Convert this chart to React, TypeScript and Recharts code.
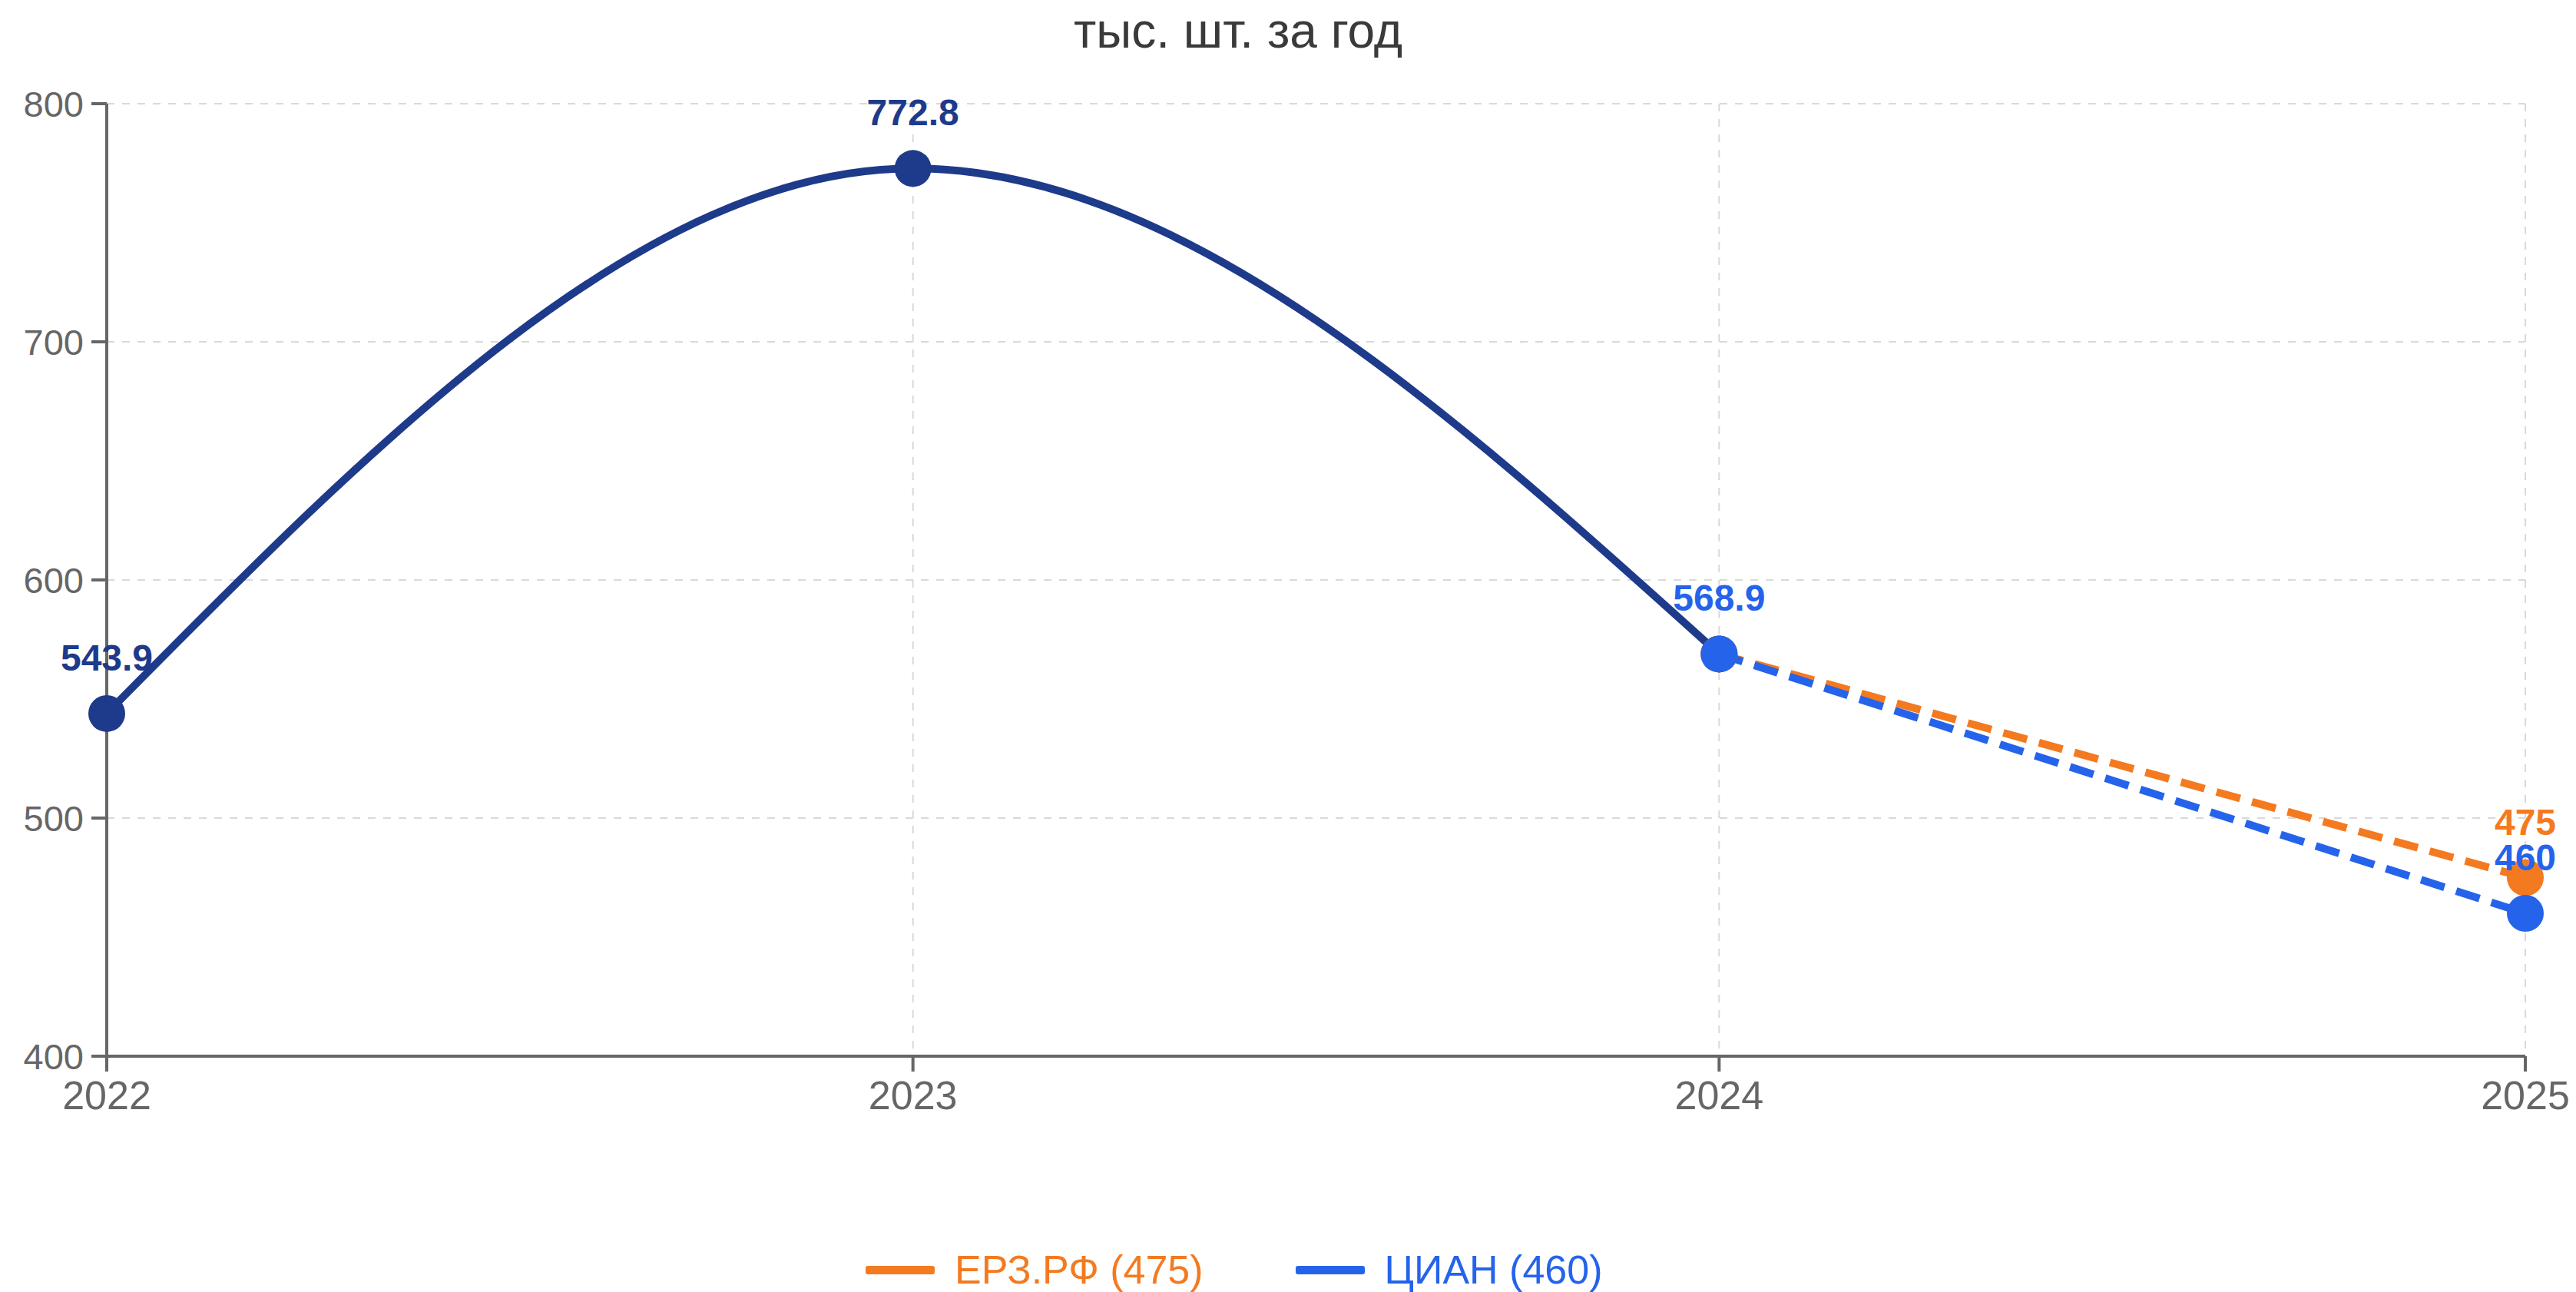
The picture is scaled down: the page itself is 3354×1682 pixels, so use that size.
import React from 'react'
import {
  LineChart,
  Line,
  XAxis,
  YAxis,
  CartesianGrid,
  Legend,
  LabelList,
} from 'recharts'

const years = ['2022', '2023', '2024', '2025']
const factValues = [543.9, 772.8, 568.9, null]
const erzValues = [null, null, 568.9, 475]
const cianValues = [null, null, 568.9, 460]
const yTicks = [400, 500, 600, 700, 800]

const NAVY = '#1e3a8a'
const ORANGE = '#f47a20'
const BLUE = '#2563eb'
const FONT = '"Liberation Sans", Arial, Helvetica, sans-serif'

const data = years.map((year, i) => ({
  year,
  fact: factValues[i],
  erz: erzValues[i],
  cian: cianValues[i],
}))

const legendItems = [
  { name: 'ЕРЗ.РФ (475)', color: ORANGE },
  { name: 'ЦИАН (460)', color: BLUE },
]

// labels only on chosen points
const pointLabel = (color: string, show: number[]) => (props: any) => {
  const { x, y, value, index } = props
  if (value == null || !show.includes(index)) return null
  return (
    <text
      x={x}
      y={y - 56}
      textAnchor='middle'
      fill={color}
      fontSize={48}
      fontWeight={700}
      fontFamily={FONT}>
      {value}
    </text>
  )
}

const LegendContent = () => (
  <div
    style={{
      height: 58,
      display: 'flex',
      alignItems: 'center',
      paddingLeft: 1127,
      fontFamily: FONT,
      fontSize: 52,
    }}>
    {legendItems.map((it, i) => (
      <div
        key={it.name}
        style={{
          display: 'flex',
          alignItems: 'center',
          marginRight: i === 0 ? 120 : 0,
          color: it.color,
        }}>
        <span
          style={{
            display: 'inline-block',
            width: 90,
            height: 11,
            borderRadius: 3,
            background: it.color,
            marginRight: 26,
          }}
        />
        <span>{it.name}</span>
      </div>
    ))}
  </div>
)

export default function App() {
  return (
    <div
      style={{
        position: 'absolute',
        left: 0,
        top: 0,
        width: 3354,
        height: 1682,
        background: '#fff',
      }}>
      <div
        style={{
          position: 'absolute',
          left: 1612,
          top: 0,
          transform: 'translateX(-50%)',
          fontFamily: FONT,
          fontSize: 64,
          color: '#3a3a3a',
          lineHeight: '80px',
          whiteSpace: 'nowrap',
        }}>
        тыс. шт. за год
      </div>
      <LineChart
        width={3354}
        height={1682}
        data={data}
        margin={{ top: 135, right: 66, bottom: 0, left: 0 }}>
        <CartesianGrid stroke='#d9d9d9' strokeWidth={2} strokeDasharray='10 10' />
        <XAxis
          dataKey='year'
          height={249}
          interval={0}
          padding={{ left: 0, right: 0 }}
          tickSize={20}
          tickMargin={12}
          stroke='#666'
          strokeWidth={4}
          tick={{ fill: '#666', fontSize: 52, fontFamily: FONT }}
        />
        <YAxis
          width={139}
          domain={[400, 800]}
          ticks={yTicks}
          interval={0}
          tickSize={20}
          tickMargin={10}
          stroke='#666'
          strokeWidth={4}
          tick={{ fill: '#666', fontSize: 47, fontFamily: FONT }}
        />
        <Legend verticalAlign='bottom' content={<LegendContent />} />
        <Line
          type='monotone'
          dataKey='fact'
          stroke={NAVY}
          strokeWidth={10}
          dot={{ r: 24, fill: NAVY, stroke: 'none' }}
          legendType='none'
          isAnimationActive={false}>
          <LabelList dataKey='fact' content={pointLabel(NAVY, [0, 1])} />
        </Line>
        <Line
          type='linear'
          dataKey='erz'
          name='ЕРЗ.РФ (475)'
          stroke={ORANGE}
          strokeWidth={10}
          strokeDasharray='32 16'
          dot={{ r: 24, fill: ORANGE, stroke: 'none', strokeDasharray: '' }}
          isAnimationActive={false}>
          <LabelList dataKey='erz' content={pointLabel(ORANGE, [3])} />
        </Line>
        <Line
          type='linear'
          dataKey='cian'
          name='ЦИАН (460)'
          stroke={BLUE}
          strokeWidth={10}
          strokeDasharray='32 16'
          dot={{ r: 24, fill: BLUE, stroke: 'none', strokeDasharray: '' }}
          isAnimationActive={false}>
          <LabelList dataKey='cian' content={pointLabel(BLUE, [2, 3])} />
        </Line>
      </LineChart>
    </div>
  )
}
